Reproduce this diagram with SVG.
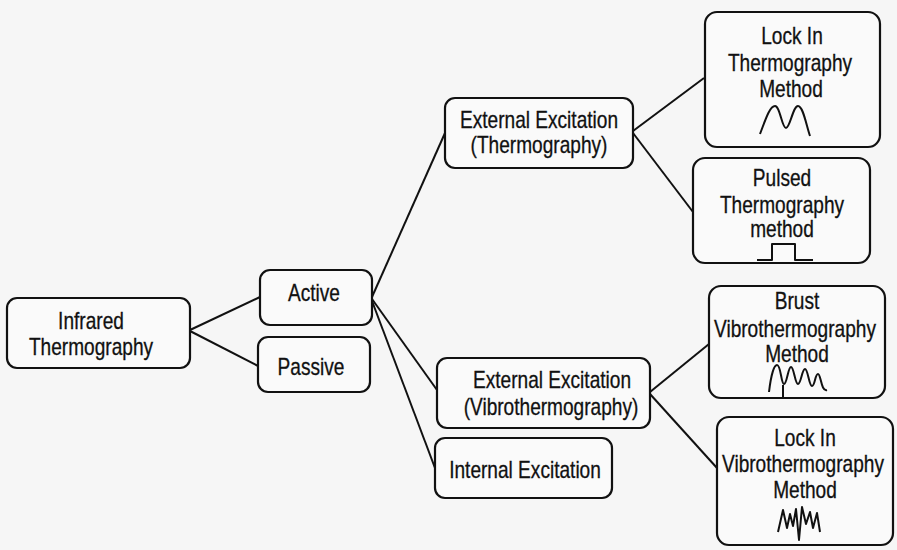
<svg xmlns="http://www.w3.org/2000/svg" width="897" height="550" viewBox="0 0 897 550">
<style>
.box{fill:#fafafa;stroke:#111;stroke-width:2.2}
.t{font-family:"Liberation Sans",Arial,sans-serif;font-size:23px;fill:#111;stroke:#111;stroke-width:0.3;text-anchor:middle}
.c{fill:none;stroke:#111;stroke-width:2}
.w{fill:none;stroke:#111;stroke-width:2;stroke-linejoin:round}
</style>
<rect width="897" height="550" fill="#f6f6f6"/>
<g id="connectors">
<line class="c" x1="190" y1="330" x2="260" y2="297"/>
<line class="c" x1="190" y1="331" x2="258" y2="366"/>
<line class="c" x1="372" y1="297" x2="445" y2="133"/>
<line class="c" x1="372" y1="299" x2="437" y2="390"/>
<line class="c" x1="372" y1="301" x2="435" y2="468"/>
<line class="c" x1="633" y1="131" x2="704" y2="78"/>
<line class="c" x1="633" y1="133" x2="693" y2="212"/>
<line class="c" x1="650" y1="392" x2="709" y2="344"/>
<line class="c" x1="650" y1="394" x2="717" y2="468"/>
</g>
<g id="infrared">
<rect class="box" x="7" y="298" width="183" height="70" rx="10"/>
<text class="t" transform="translate(91,329) scale(0.83,1)">Infrared</text>
<text class="t" transform="translate(91,355) scale(0.83,1)">Thermography</text>
</g>
<g id="active">
<rect class="box" x="260" y="270" width="112" height="55" rx="10"/>
<text class="t" transform="translate(314,301) scale(0.83,1)">Active</text>
</g>
<g id="passive">
<rect class="box" x="258" y="337" width="112" height="55" rx="10"/>
<text class="t" transform="translate(311,375) scale(0.83,1)">Passive</text>
</g>
<g id="ext-thermo">
<rect class="box" x="445" y="98" width="188" height="70" rx="10"/>
<text class="t" transform="translate(539,128) scale(0.83,1)">External Excitation</text>
<text class="t" transform="translate(539,153) scale(0.83,1)">(Thermography)</text>
</g>
<g id="ext-vibro">
<rect class="box" x="437" y="358" width="213" height="70" rx="10"/>
<text class="t" transform="translate(552,388) scale(0.83,1)">External Excitation</text>
<text class="t" transform="translate(551,415) scale(0.83,1)">(Vibrothermography)</text>
</g>
<g id="internal">
<rect class="box" x="435" y="438" width="177" height="60" rx="10"/>
<text class="t" transform="translate(525,478) scale(0.83,1)">Internal Excitation</text>
</g>
<g id="lockin-thermo">
<rect class="box" x="705" y="12" width="175" height="135" rx="12"/>
<text class="t" transform="translate(792,44) scale(0.83,1)">Lock In</text>
<text class="t" transform="translate(790,71) scale(0.83,1)">Thermography</text>
<text class="t" transform="translate(791,97) scale(0.83,1)">Method</text>
<path class="w" d="M760,134 C766,118 770,106 775,106 C780,106 782,128 786,128 C790,128 793,106 798,106 C803,106 806,124 810,136"/>
</g>
<g id="pulsed">
<rect class="box" x="693" y="158" width="177" height="105" rx="12"/>
<text class="t" transform="translate(782,186) scale(0.83,1)">Pulsed</text>
<text class="t" transform="translate(782,213) scale(0.83,1)">Thermography</text>
<text class="t" transform="translate(782,237) scale(0.83,1)">method</text>
<path class="w" d="M757,260 H772 V244 H795 V260 H813"/>
</g>
<g id="brust">
<rect class="box" x="709" y="286" width="176" height="112" rx="12"/>
<text class="t" transform="translate(797,309) scale(0.83,1)">Brust</text>
<text class="t" transform="translate(795,337) scale(0.83,1)">Vibrothermography</text>
<text class="t" transform="translate(797,362) scale(0.83,1)">Method</text>
<path class="w" d="M769,392 C771,375 774,365 777,365 C781,365 781,384 784,384 C787,384 788,367 791,367 C794,367 795,384 798,384 C801,384 802,369 805,369 C808,369 809,386 812,386 C815,386 815,374 818,374 C821,374 821,392 827,390"/>
<line class="c" x1="783" y1="385" x2="783" y2="398"/>
</g>
<g id="lockin-vibro">
<rect class="box" x="717" y="417" width="176" height="128" rx="12"/>
<text class="t" transform="translate(805,446) scale(0.83,1)">Lock In</text>
<text class="t" transform="translate(803,472) scale(0.83,1)">Vibrothermography</text>
<text class="t" transform="translate(805,498) scale(0.83,1)">Method</text>
<path class="w" d="M778,532 L783,510 L787,528 L790,514 L793,526 L796,509 L799,540 L802,507 L806,524 L810,512 L813,528 L817,513 L820,532"/>
</g>
</svg>
